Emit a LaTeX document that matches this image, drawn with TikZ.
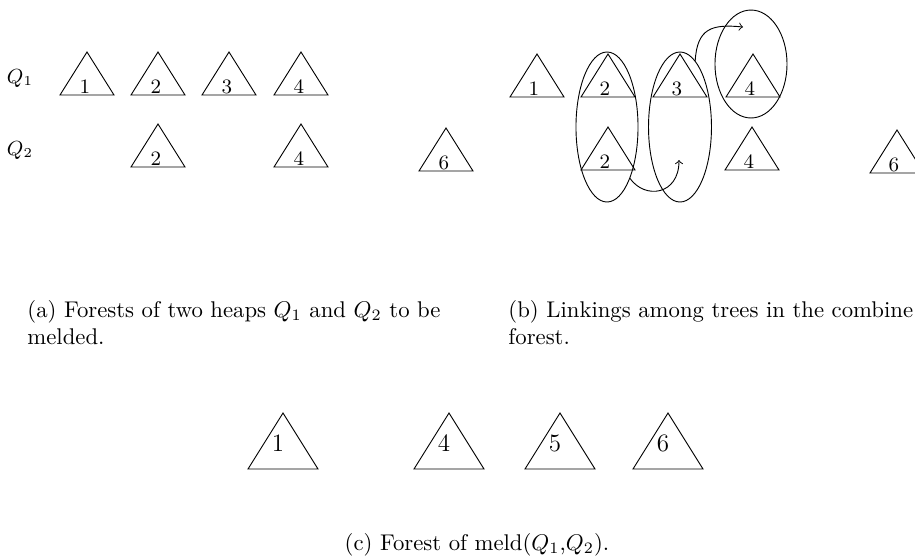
\documentclass[tikz,border=0pt]{standalone}
\usepackage{tikz}
\usetikzlibrary{shapes,arrows,positioning}
\usepackage{amsmath}

\begin{document}
\begin{tikzpicture}[
  x=0.44pt, y=-0.44pt,
  tree/.style={draw, line join=miter},
  num/.style={anchor=base, inner sep=0pt, font=\small},
  bignum/.style={anchor=base, inner sep=0pt, font=\fontsize{11}{13}\selectfont},
  ring/.style={draw, ellipse, inner sep=0pt, outer sep=0pt},
  link/.style={->, >=to},
  subcap/.style={anchor=north west, align=left, inner sep=0pt, font=\normalsize}
]
  \clip (0,0) rectangle (915,556);

  % (a) the two heaps
  \node[font=\small] (q1) at (20,78) {$Q_1$};
  \node[font=\small] (q2) at (20,150) {$Q_2$};
  \foreach \x/\y/\n/\id in {87/52/1/a1, 158/52/2/a2, 229/52/3/a3, 301/52/4/a4,
                            158/124/2/a5, 301/124/4/a6, 446/128/6/a7} {
    \draw[tree] (\x,\y) -- ++(27,43) -- ++(-54,0) -- cycle;
    \node[num] (\id) at (\x-2,\y+41) {\n};
  }

  % (b) linking
  \foreach \x/\y/\n/\id in {537/54/1/b1, 608/54/2/b2, 680/54/3/b3, 753/54/4/b4,
                            608/127/2/b5, 752/127/4/b6, 897/130/6/b7} {
    \draw[tree] (\x,\y) -- ++(27,43) -- ++(-54,0) -- cycle;
    \node[num] (\id) at (\x-3,\y+41) {\n};
  }
  \node[ring, minimum width=27.3pt, minimum height=66pt] (ring2) at (607,127) {};
  \node[ring, minimum width=27.7pt, minimum height=66pt] (ring3) at (680,127) {};
  \node[ring, minimum width=31.7pt, minimum height=47.5pt] (ring4) at (751,64) {};
  \coordinate (in3) at (679,160);
  \coordinate (in4) at (743,27);
  \draw[link] (ring2.-66) .. controls (645,200) and (679,195) .. (in3);
  \draw[link] (ring3.77) .. controls (697,28) and (712,24) .. (in4);

  % (c) result
  \foreach \x/\n/\id in {283/1/c1, 449/4/c2, 560/5/c3, 668/6/c4} {
    \draw[tree] (\x,413) -- ++(35,56) -- ++(-70,0) -- cycle;
    \node[bignum] (\id) at (\x-5,451) {\n};
  }

  % captions
  \node[subcap] (capa) at (27,300) {(a) Forests of two heaps $Q_1$ and $Q_2$ to be\\melded.};
  \node[subcap] (capb) at (508,300) {(b) Linkings among trees in the combine\\forest.};
  \node[anchor=base, inner sep=0pt] (capc) at (477,550) {(c) Forest of meld($Q_1$,$Q_2$).};
\end{tikzpicture}
\end{document}
